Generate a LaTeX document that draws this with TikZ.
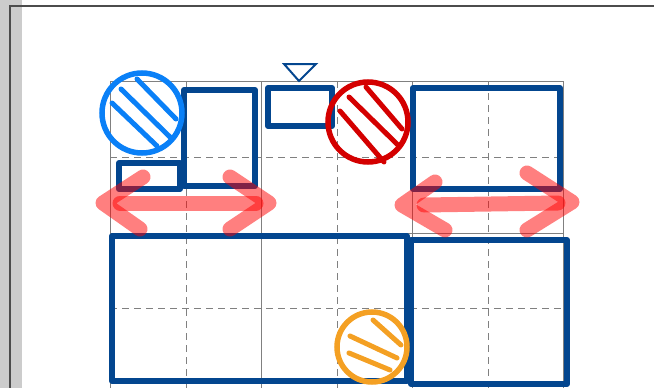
\documentclass[tikz,border=0pt]{standalone}
\begin{document}
\begin{tikzpicture}[x=1pt,y=-1pt,
  gridsolid/.style={draw=gray, line width=0.8pt},
  griddash/.style={draw=gray, line width=0.8pt, dash pattern=on 7pt off 5pt},
  blockbox/.style={draw=blockblue, line width=6pt, line join=round},
  ring/.style={line width=5.5pt},
  hatch/.style={line width=5pt, line cap=round},
  redarrow/.style={draw=red, opacity=0.5, line width=15pt, line cap=round, line join=round}]
\definecolor{blockblue}{HTML}{03468F}
\definecolor{skyblue}{HTML}{0A80F7}
\definecolor{ringred}{HTML}{D40000}
\definecolor{ringorange}{HTML}{F4A023}
\useasboundingbox (0,0) rectangle (654,388);
% frame
\fill[gray!40] (0,0) rectangle (22,388);
\draw[line width=2pt, draw=black!70] (10,388) -- (10,6) -- (654,6);
% grid
\foreach \x in {186,337,488} \draw[griddash] (\x,81) -- (\x,388);
\foreach \y in {157,308} \draw[griddash] (110,\y) -- (563,\y);
\foreach \x in {110,261,412,563} \draw[gridsolid] (\x,81) -- (\x,388);
\foreach \y in {81,233} \draw[gridsolid] (110,\y) -- (563,\y);
% blue boxes
\draw[blockbox] (184,90) rectangle (255,186);
\draw[blockbox] (119,163) rectangle (180,189);
\draw[blockbox] (268,88) rectangle (332,126);
\draw[blockbox] (413,88) rectangle (560,189);
\draw[blockbox] (112,236) rectangle (407,381);
\draw[blockbox] (411,240) rectangle (567,384);
% triangle marker
\draw[blockblue, line width=2pt, line join=miter] (284,64) -- (316,64) -- (299,81) -- cycle;
% blue circle
\draw[skyblue, ring] (142,113) circle (40);
\draw[skyblue, hatch] (137,79) -- (176,119);
\draw[skyblue, hatch] (121,89) -- (170,137);
\draw[skyblue, hatch] (112,103) -- (157,146);
% red circle
\draw[ringred, ring] (368,122) circle (40);
\draw[ringred, hatch] (366,87) -- (402,129);
\draw[ringred, hatch] (349,97) -- (399,146);
\draw[ringred, hatch] (340,111) -- (384,162);
% orange circle
\draw[ringorange, ring] (372,347) circle (35);
\draw[ringorange, hatch] (373,320) -- (401,345);
\draw[ringorange, hatch] (350,336) -- (397,358);
\draw[ringorange, hatch] (349,353) -- (390,370);
% red double arrows
\draw[redarrow] (120,203) -- (256,203);
\draw[redarrow] (143,177) -- (103,203) -- (140,229);
\draw[redarrow] (230,177) -- (269,203) -- (230,229);
\draw[redarrow] (424,205) -- (558,203);
\draw[redarrow] (435,182) -- (402,205) -- (445,230);
\draw[redarrow] (527,173) -- (572,202) -- (527,230);
\end{tikzpicture}
\end{document}
